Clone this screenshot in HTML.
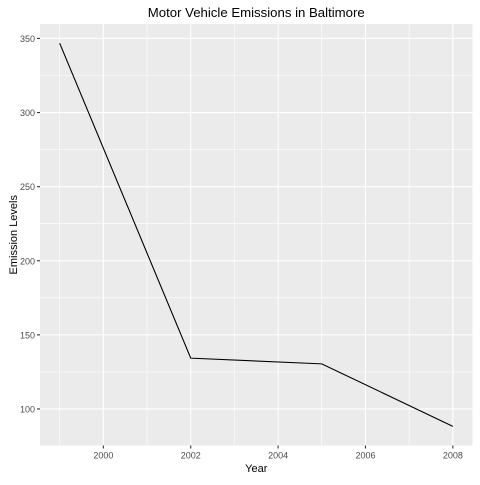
<!DOCTYPE html>
<html><head><meta charset="utf-8"><style>
body{margin:0;background:#fff;font-family:"Liberation Sans",Arial,sans-serif}
svg text{font-family:"Liberation Sans",Arial,sans-serif}
</style></head><body>
<svg id="chart" width="480" height="480"></svg>
<script>
const years=[1999,2002,2005,2008];
const emissions=[346.82,134.31,130.43,88.28];
const xTicks=[2000,2002,2004,2006,2008];
const yTicks=[100,150,200,250,300,350];
const NS="http://www.w3.org/2000/svg";
const svg=document.getElementById('chart');
const L=40,R=472.5,T=24,B=445.5;
const xMin=1999-0.45,xMax=2008+0.45,yMin=75.35,yMax=359.75;
const sx=v=>L+(v-xMin)/(xMax-xMin)*(R-L);
const sy=v=>B-(v-yMin)/(yMax-yMin)*(B-T);
function mk(t,a,p){const e=document.createElementNS(NS,t);for(const k in a)e.setAttribute(k,a[k]);(p||svg).appendChild(e);return e;}
const bg=mk('rect',{x:L,y:T,width:R-L,height:B-T,fill:'#EBEBEB'});


const grid=mk('g',{});


for(let i=0;i<yTicks.length-1;i++){const m=(yTicks[i]+yTicks[i+1])/2;mk('line',{x1:L,x2:R,y1:sy(m),y2:sy(m),stroke:'#fff','stroke-width':0.55},grid);}
for(let i=0;i<xTicks.length-1;i++){const m=(xTicks[i]+xTicks[i+1])/2;mk('line',{y1:T,y2:B,x1:sx(m),x2:sx(m),stroke:'#fff','stroke-width':0.55},grid);}
mk('line',{y1:T,y2:B,x1:sx(1999),x2:sx(1999),stroke:'#fff','stroke-width':0.55},grid);
yTicks.forEach(v=>{const y=sy(v);mk('line',{x1:L,x2:R,y1:y,y2:y,stroke:'#fff','stroke-width':1.1},grid);
mk('line',{x1:L-3,x2:L,y1:y,y2:y,stroke:'#333','stroke-width':1.1});
const t=mk('text',{x:L-5,y:y+3.5,'text-anchor':'end','font-size':9,fill:'#4D4D4D'});t.textContent=v;

});
xTicks.forEach(v=>{const x=sx(v);mk('line',{y1:T,y2:B,x1:x,x2:x,stroke:'#fff','stroke-width':1.1},grid);
mk('line',{y1:B,y2:B+3,x1:x,x2:x,stroke:'#333','stroke-width':1.1});
const t=mk('text',{x:x,y:B+13,'text-anchor':'middle','font-size':9,fill:'#4D4D4D'});t.textContent=v;

});
const line=mk('polyline',{points:years.map((y,i)=>sx(y)+','+sy(emissions[i])).join(' '),fill:'none',stroke:'#000','stroke-width':1.1});


const title=mk('text',{x:(L+R)/2,y:17,'text-anchor':'middle','font-size':13.2,fill:'#000'});title.textContent='Motor Vehicle Emissions in Baltimore';


const xt=mk('text',{x:(L+R)/2,y:472,'text-anchor':'middle','font-size':11,fill:'#000'});xt.textContent='Year';


const yt=mk('text',{x:0,y:0,'text-anchor':'middle','font-size':11,fill:'#000',transform:`translate(17,${(T+B)/2}) rotate(-90)`});yt.textContent='Emission Levels';


</script>
</body></html>
